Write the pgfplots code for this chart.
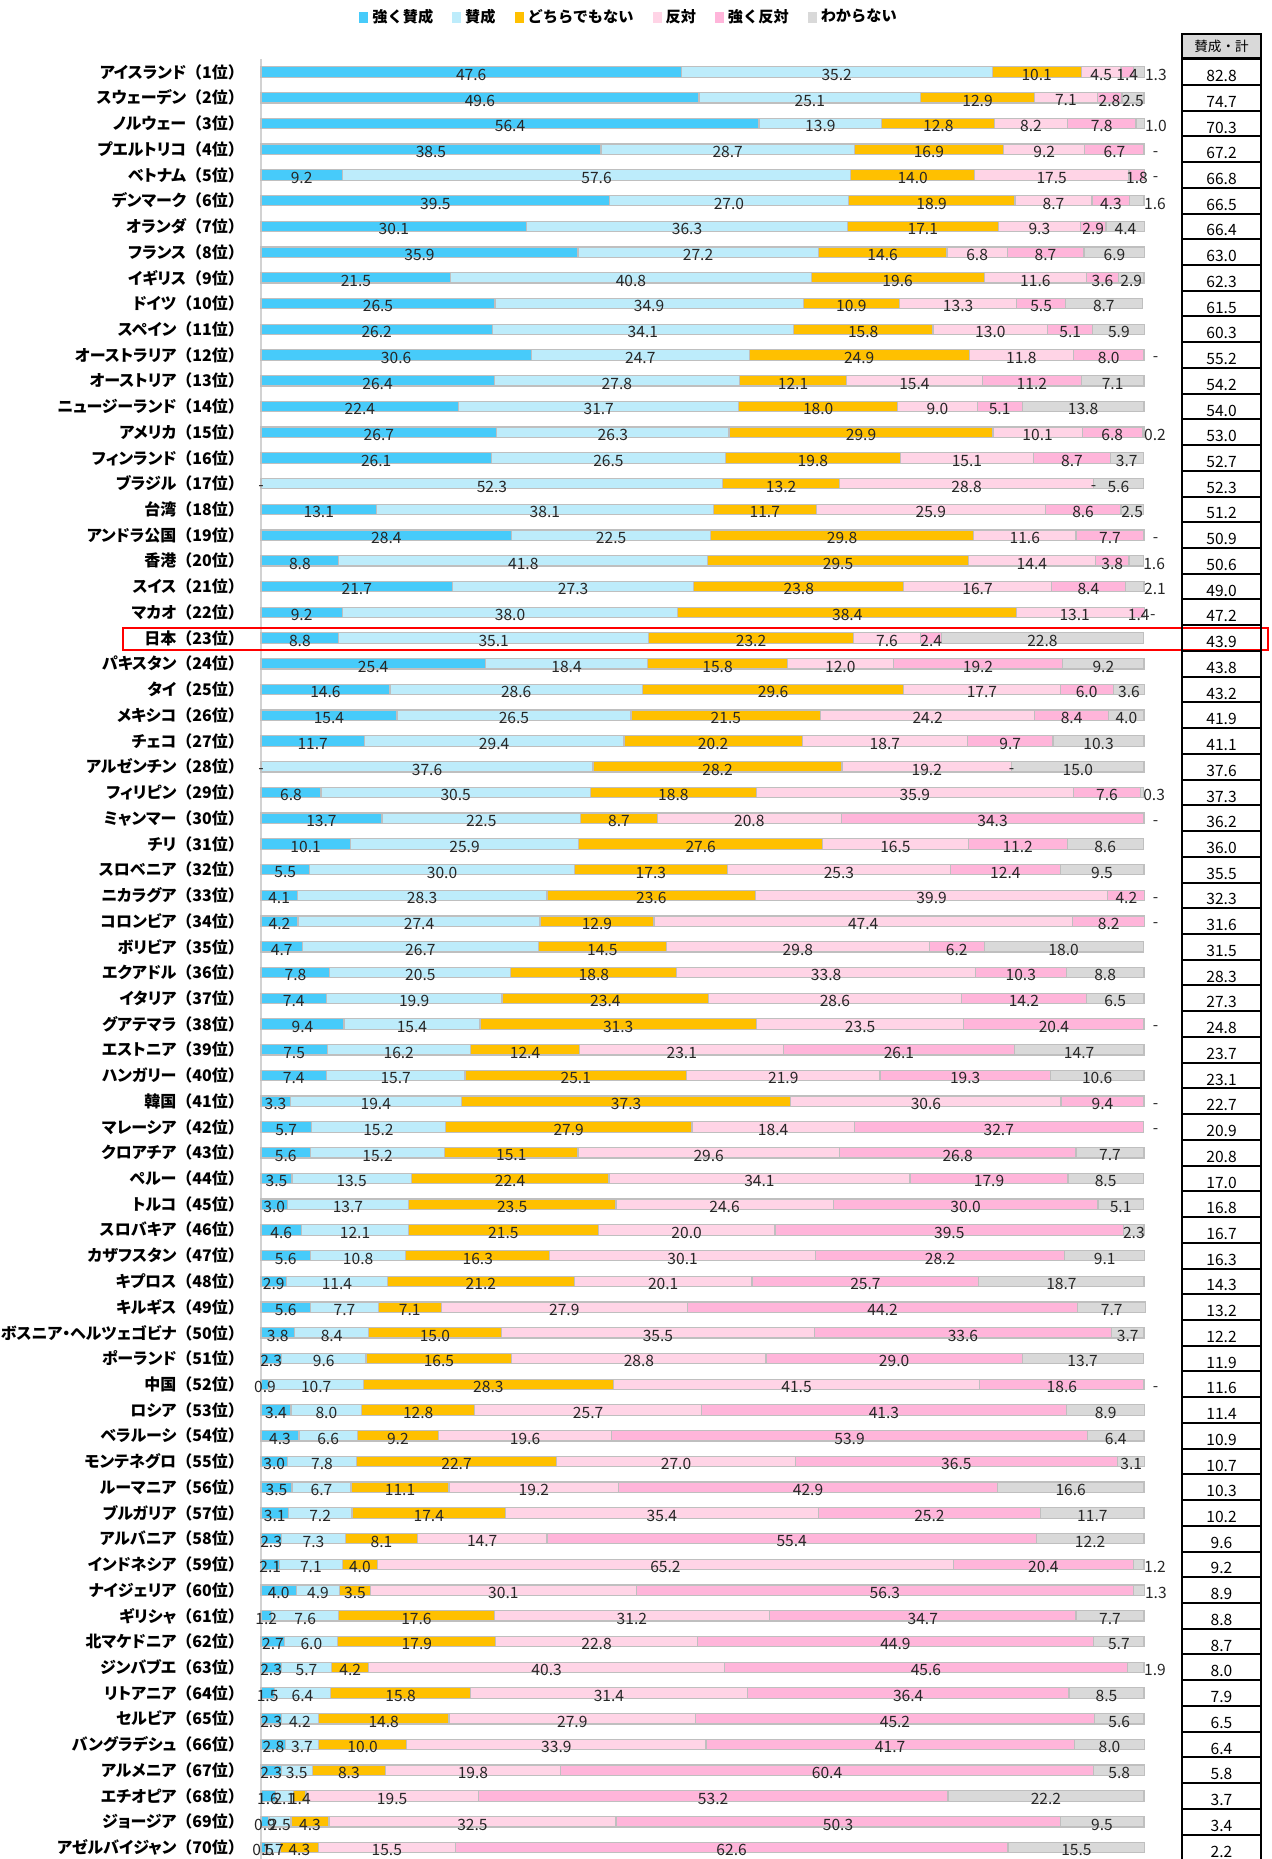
\documentclass[border=0pt]{standalone}
\usepackage{pgfplots}
\pgfplotsset{compat=1.18}
\usepackage{pgfplotstable}
\usepackage{fontspec}
\setmainfont{Noto Sans CJK JP}
\newfontfamily\labfont[RawFeature=+palt]{Noto Sans CJK JP}
\newfontfamily\jpfont{Noto Sans CJK JP}
\newcommand\R[1]{{\jpfont\bfseries （}#1位{\jpfont\bfseries ）}}
\definecolor{c1}{RGB}{71,203,250}
\definecolor{c2}{RGB}{189,236,251}
\definecolor{c3}{RGB}{255,192,0}
\definecolor{c4}{RGB}{255,212,230}
\definecolor{c5}{RGB}{255,181,218}
\definecolor{c6}{RGB}{217,217,217}
\definecolor{bord}{RGB}{191,191,191}

\pgfplotstableread{
idx sa a n d sd dk tot
1 47.6 35.2 10.1 4.5 1.4 1.3 82.8
2 49.6 25.1 12.9 7.1 2.8 2.5 74.7
3 56.4 13.9 12.8 8.2 7.8 1.0 70.3
4 38.5 28.7 16.9 9.2 6.7 0 67.2
5 9.2 57.6 14.0 17.5 1.8 0 66.8
6 39.5 27.0 18.9 8.7 4.3 1.6 66.5
7 30.1 36.3 17.1 9.3 2.9 4.4 66.4
8 35.9 27.2 14.6 6.8 8.7 6.9 63.0
9 21.5 40.8 19.6 11.6 3.6 2.9 62.3
10 26.5 34.9 10.9 13.3 5.5 8.7 61.5
11 26.2 34.1 15.8 13.0 5.1 5.9 60.3
12 30.6 24.7 24.9 11.8 8.0 0 55.2
13 26.4 27.8 12.1 15.4 11.2 7.1 54.2
14 22.4 31.7 18.0 9.0 5.1 13.8 54.0
15 26.7 26.3 29.9 10.1 6.8 0.2 53.0
16 26.1 26.5 19.8 15.1 8.7 3.7 52.7
17 0 52.3 13.2 28.8 0 5.6 52.3
18 13.1 38.1 11.7 25.9 8.6 2.5 51.2
19 28.4 22.5 29.8 11.6 7.7 0 50.9
20 8.8 41.8 29.5 14.4 3.8 1.6 50.6
21 21.7 27.3 23.8 16.7 8.4 2.1 49.0
22 9.2 38.0 38.4 13.1 1.4 0 47.2
23 8.8 35.1 23.2 7.6 2.4 22.8 43.9
24 25.4 18.4 15.8 12.0 19.2 9.2 43.8
25 14.6 28.6 29.6 17.7 6.0 3.6 43.2
26 15.4 26.5 21.5 24.2 8.4 4.0 41.9
27 11.7 29.4 20.2 18.7 9.7 10.3 41.1
28 0 37.6 28.2 19.2 0 15.0 37.6
29 6.8 30.5 18.8 35.9 7.6 0.3 37.3
30 13.7 22.5 8.7 20.8 34.3 0 36.2
31 10.1 25.9 27.6 16.5 11.2 8.6 36.0
32 5.5 30.0 17.3 25.3 12.4 9.5 35.5
33 4.1 28.3 23.6 39.9 4.2 0 32.3
34 4.2 27.4 12.9 47.4 8.2 0 31.6
35 4.7 26.7 14.5 29.8 6.2 18.0 31.5
36 7.8 20.5 18.8 33.8 10.3 8.8 28.3
37 7.4 19.9 23.4 28.6 14.2 6.5 27.3
38 9.4 15.4 31.3 23.5 20.4 0 24.8
39 7.5 16.2 12.4 23.1 26.1 14.7 23.7
40 7.4 15.7 25.1 21.9 19.3 10.6 23.1
41 3.3 19.4 37.3 30.6 9.4 0 22.7
42 5.7 15.2 27.9 18.4 32.7 0 20.9
43 5.6 15.2 15.1 29.6 26.8 7.7 20.8
44 3.5 13.5 22.4 34.1 17.9 8.5 17.0
45 3.0 13.7 23.5 24.6 30.0 5.1 16.8
46 4.6 12.1 21.5 20.0 39.5 2.3 16.7
47 5.6 10.8 16.3 30.1 28.2 9.1 16.3
48 2.9 11.4 21.2 20.1 25.7 18.7 14.3
49 5.6 7.7 7.1 27.9 44.2 7.7 13.2
50 3.8 8.4 15.0 35.5 33.6 3.7 12.2
51 2.3 9.6 16.5 28.8 29.0 13.7 11.9
52 0.9 10.7 28.3 41.5 18.6 0 11.6
53 3.4 8.0 12.8 25.7 41.3 8.9 11.4
54 4.3 6.6 9.2 19.6 53.9 6.4 10.9
55 3.0 7.8 22.7 27.0 36.5 3.1 10.7
56 3.5 6.7 11.1 19.2 42.9 16.6 10.3
57 3.1 7.2 17.4 35.4 25.2 11.7 10.2
58 2.3 7.3 8.1 14.7 55.4 12.2 9.6
59 2.1 7.1 4.0 65.2 20.4 1.2 9.2
60 4.0 4.9 3.5 30.1 56.3 1.3 8.9
61 1.2 7.6 17.6 31.2 34.7 7.7 8.8
62 2.7 6.0 17.9 22.8 44.9 5.7 8.7
63 2.3 5.7 4.2 40.3 45.6 1.9 8.0
64 1.5 6.4 15.8 31.4 36.4 8.5 7.9
65 2.3 4.2 14.8 27.9 45.2 5.6 6.5
66 2.8 3.7 10.0 33.9 41.7 8.0 6.4
67 2.3 3.5 8.3 19.8 60.4 5.8 5.8
68 1.6 2.1 1.4 19.5 53.2 22.2 3.7
69 0.9 2.5 4.3 32.5 50.3 9.5 3.4
70 0.5 1.7 4.3 15.5 62.6 15.5 2.2
}\data

% positions of the "-" marks (no answer)
\pgfplotstableread{
x y
0 17
0 28
94.3 17
85.0 28
101.3 4
101.3 5
101.3 12
101.3 19
101.0 22
101.3 30
101.3 33
101.3 34
101.3 38
101.3 41
101.3 42
101.3 52
}\dashes

\pgfplotsset{
  endlabel/.code={%
    \pgfkeys{/pgf/fpu=true,/pgf/fpu/output format=fixed}%
    \pgfmathsetmacro\labshift{(\pgfplotspointmeta<2.2)*(2.2075*\pgfplotspointmeta+5.5)}%
    \pgfkeys{/pgf/fpu=false}%
  },
  labend/.style={every node near coord/.append style={/pgfplots/endlabel, xshift=\labshift pt}},
  geom/.style={at={(130.5pt,-29.55pt)}, anchor=north west,
    scale only axis, width=441.5pt, height=900.6pt,
    xmin=0, xmax=100, ymin=0.5, ymax=70.5, y dir=reverse, clip=false},
}

\begin{document}
\begin{tikzpicture}
\path[use as bounding box] (0,0) rectangle (636pt,-929.5pt);
\begin{axis}[
  geom,
  xbar stacked, bar width=5.2pt,
  axis x line=none, axis y line*=left,
  y axis line style={draw=bord!70, line width=0.9pt, -},
  ytick={1,...,70}, major tick length=0pt,
  yticklabels={アイスランド\R{1},スウェーデン\R{2},ノルウェー\R{3},プエルトリコ\R{4},ベトナム\R{5},デンマーク\R{6},オランダ\R{7},フランス\R{8},イギリス\R{9},ドイツ\R{10},スペイン\R{11},オーストラリア\R{12},オーストリア\R{13},ニュージーランド\R{14},アメリカ\R{15},フィンランド\R{16},ブラジル\R{17},台湾\R{18},アンドラ公国\R{19},香港\R{20},スイス\R{21},マカオ\R{22},日本\R{23},パキスタン\R{24},タイ\R{25},メキシコ\R{26},チェコ\R{27},アルゼンチン\R{28},フィリピン\R{29},ミャンマー\R{30},チリ\R{31},スロベニア\R{32},ニカラグア\R{33},コロンビア\R{34},ボリビア\R{35},エクアドル\R{36},イタリア\R{37},グアテマラ\R{38},エストニア\R{39},ハンガリー\R{40},韓国\R{41},マレーシア\R{42},クロアチア\R{43},ペルー\R{44},トルコ\R{45},スロバキア\R{46},カザフスタン\R{47},キプロス\R{48},キルギス\R{49},ボスニア・ヘルツェゴビナ\R{50},ポーランド\R{51},中国\R{52},ロシア\R{53},ベラルーシ\R{54},モンテネグロ\R{55},ルーマニア\R{56},ブルガリア\R{57},アルバニア\R{58},インドネシア\R{59},ナイジェリア\R{60},ギリシャ\R{61},北マケドニア\R{62},ジンバブエ\R{63},リトアニア\R{64},セルビア\R{65},バングラデシュ\R{66},アルメニア\R{67},エチオピア\R{68},ジョージア\R{69},アゼルバイジャン\R{70}},
  yticklabel style={font=\labfont\bfseries\fontsize{8}{8}\selectfont, xshift=-5pt},
  point meta=explicit,
  nodes near coords={\pgfmathfloatifflags{\pgfplotspointmeta}{0}{}{\pgfmathprintnumber[fixed,fixed zerofill,precision=1,assume math mode=true]{\pgfplotspointmeta}}},
  nodes near coords align={center},
  every node near coord/.append style={yshift=-1.4pt, font=\fontsize{7.8}{8}\selectfont, inner sep=0pt, text=black!85},
  legend style={at={(0.418,1.0233)}, anchor=center, draw=none, fill=none, legend columns=6,
    font=\bfseries\fontsize{7.6}{8}\selectfont, inner sep=0pt,
    /tikz/every even column/.append style={column sep=7.5pt}},
  legend image code/.code={\path[#1,draw=none] (0pt,-2.8pt) rectangle (4.5pt,2.8pt);},
]
\addplot[fill=c1, draw=bord, line width=0.6pt] table[x=sa, y=idx, meta=sa] {\data};
\addplot[fill=c2, draw=bord, line width=0.6pt] table[x=a, y=idx, meta=a] {\data};
\addplot[fill=c3, draw=bord, line width=0.6pt] table[x=n, y=idx, meta=n] {\data};
\addplot[fill=c4, draw=bord, line width=0.6pt] table[x=d, y=idx, meta=d] {\data};
\addplot[fill=c5, draw=bord, line width=0.6pt] table[x=sd, y=idx, meta=sd] {\data};
\addplot[fill=c6, draw=bord, line width=0.6pt, labend] table[x=dk, y=idx, meta=dk] {\data};
\legend{強く賛成,賛成,どちらでもない,反対,強く反対,わからない}
\draw[red, line width=1pt] (axis cs:-15.6,22.6) rectangle (axis cs:114,23.46);
\end{axis}
\begin{axis}[geom, hide axis]
\addplot[draw=none, nodes near coords={-}, nodes near coords align={center},
  every node near coord/.append style={yshift=-2.2pt, font=\fontsize{7.8}{8}\selectfont, inner sep=0pt, text=black!85}]
  table[x=x, y=y] {\dashes};
\end{axis}
\begin{axis}[
  at={(591pt,-29.55pt)}, anchor=north west,
  scale only axis, width=39.5pt, height=900.6pt,
  xmin=0, xmax=1, ymin=0.5, ymax=70.5, y dir=reverse,
  xtick=\empty, ytick={1.5,2.5,...,69.5}, yticklabels={}, major tick length=0pt,
  ymajorgrids, grid style={black, line width=1pt},
  axis line style={black, line width=1pt},
  every axis title shift=0pt,
  title={賛成・計},
  title style={at={(0.5,1)}, anchor=south, yshift=0pt, draw=black, line width=1pt, fill=c6,
    minimum width=39.5pt, minimum height=12pt, inner sep=0pt, font=\fontsize{6.8}{7}\selectfont},
  clip=false,
]
\addplot[draw=none, point meta=explicit, nodes near coords={\pgfmathprintnumber[fixed,fixed zerofill,precision=1,assume math mode=true]{\pgfplotspointmeta}},
  nodes near coords align={center},
  every node near coord/.append style={font=\fontsize{7.8}{8}\selectfont, yshift=-2pt, inner sep=0pt}]
  table[x expr=0.5, y=idx, meta=tot] {\data};
\end{axis}
\end{tikzpicture}
\end{document}
